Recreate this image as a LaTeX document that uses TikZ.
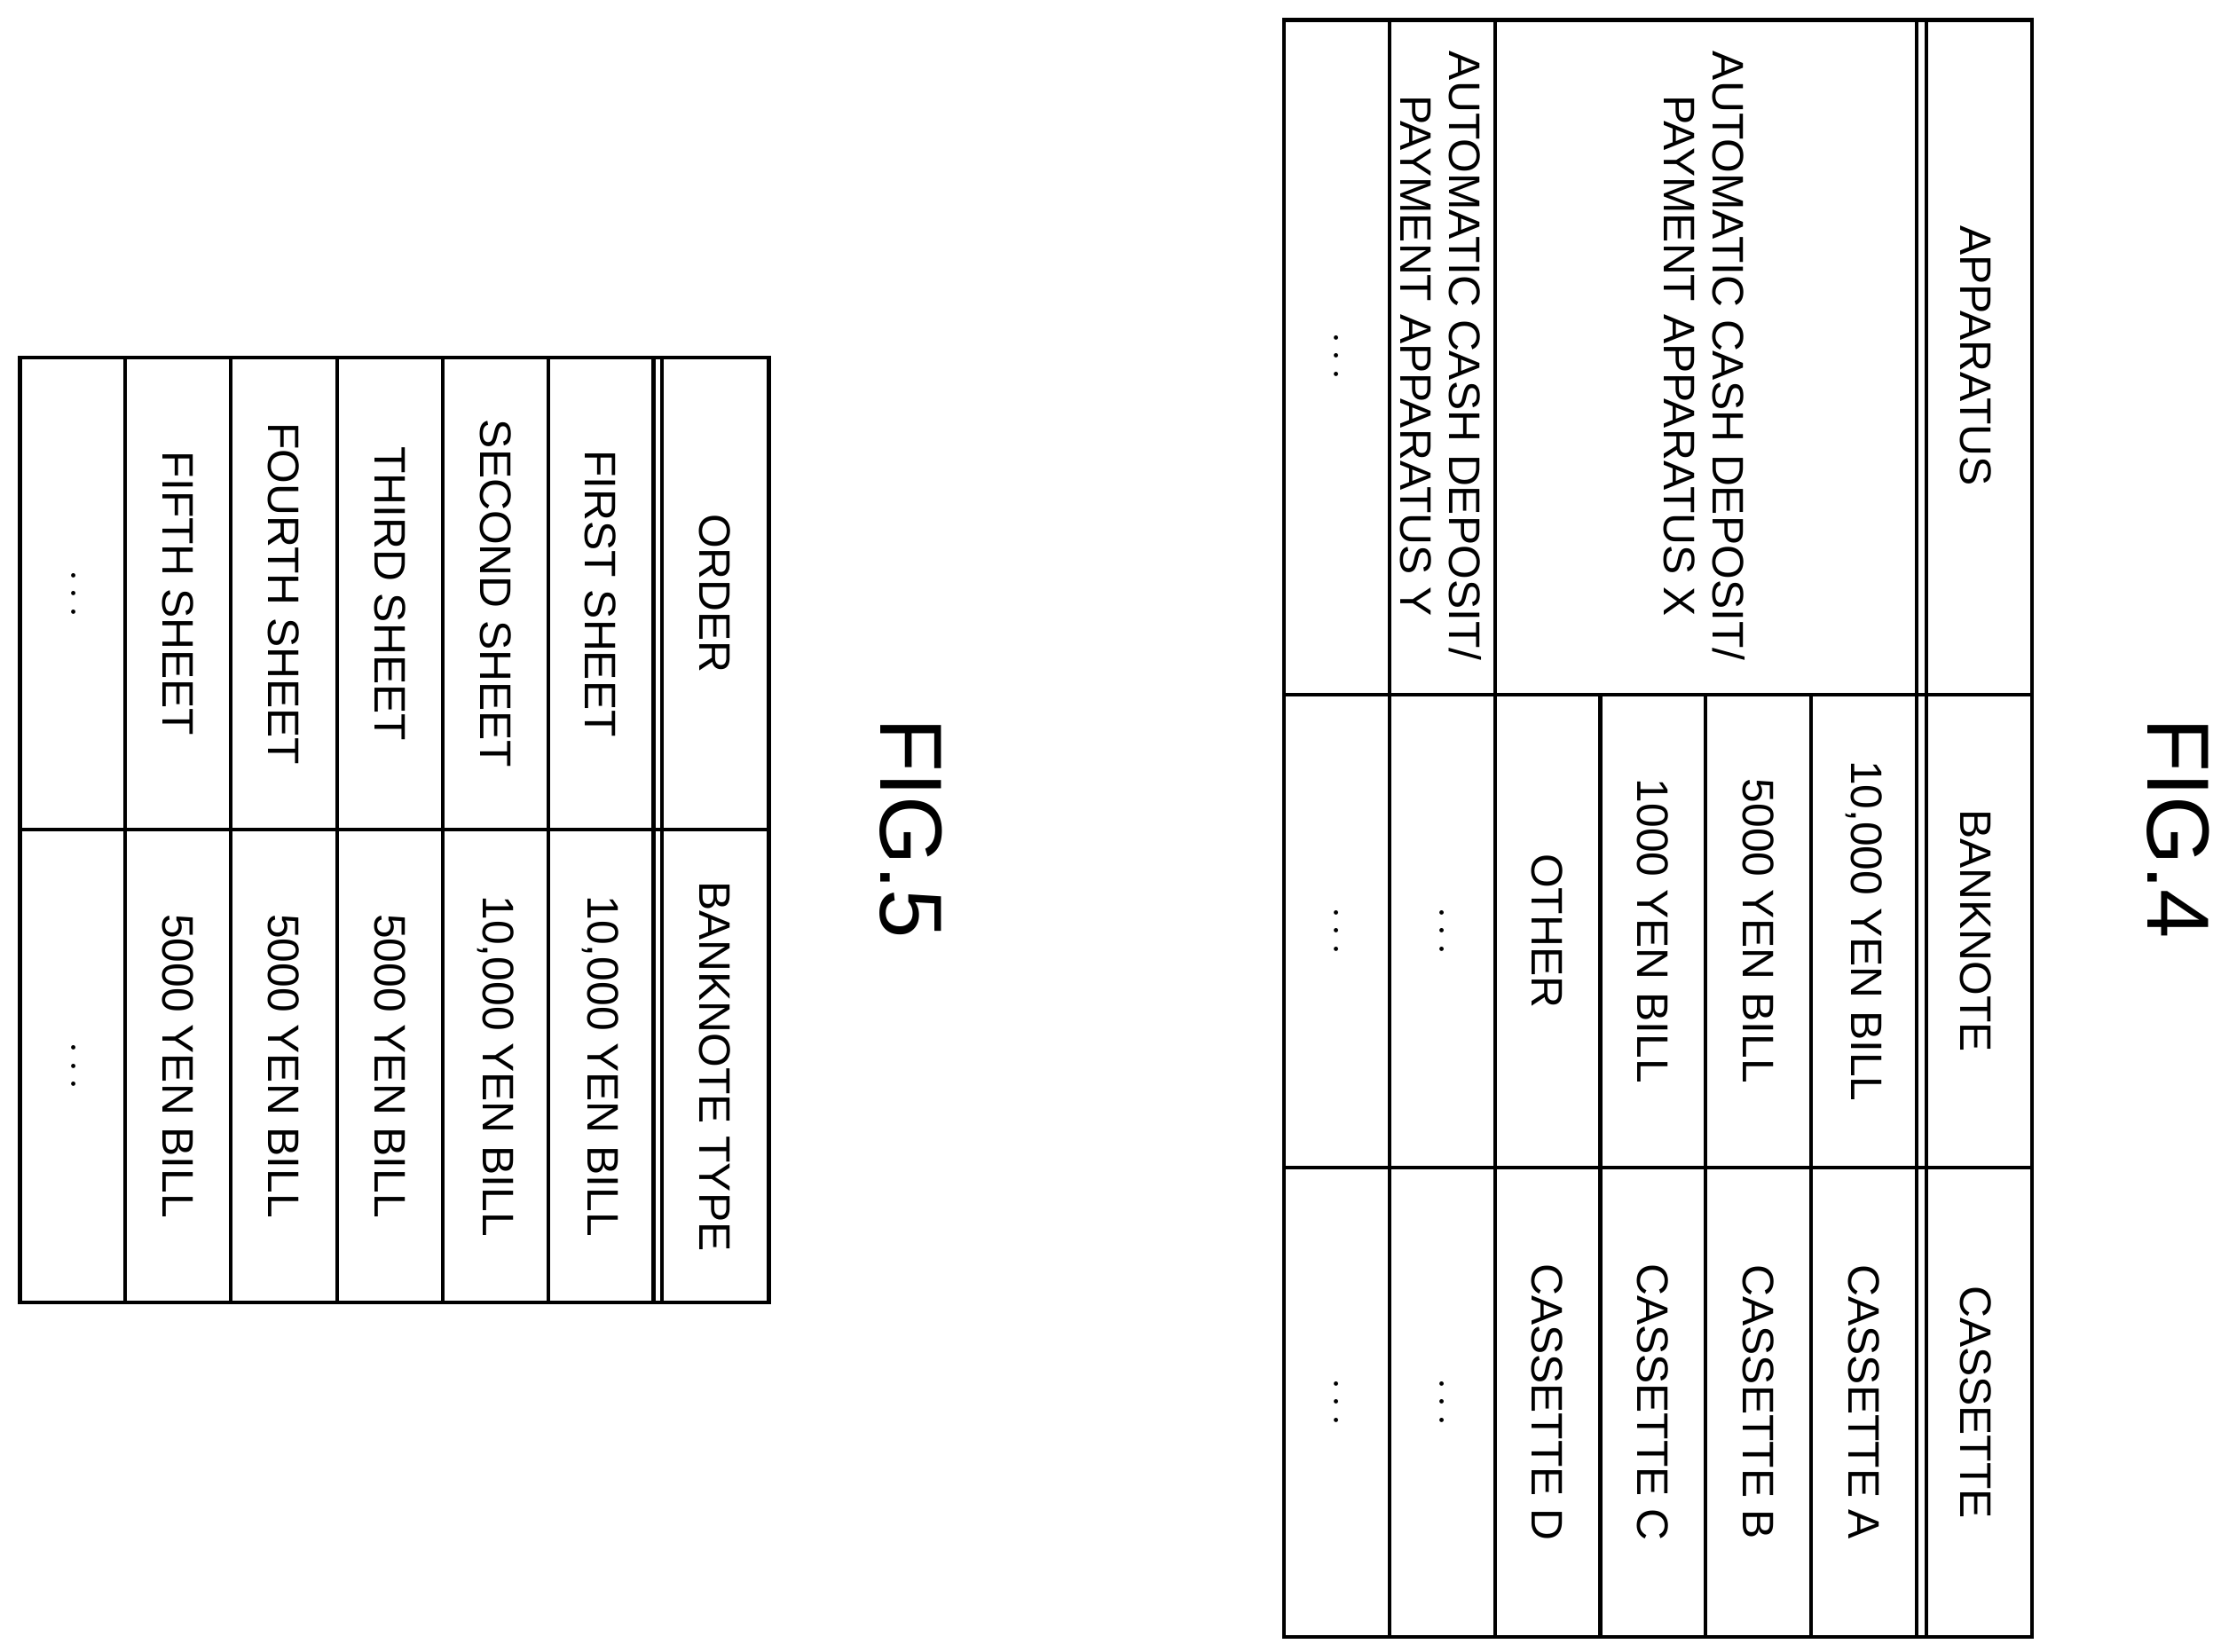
\documentclass[tikz,border=0pt]{standalone}
\usepackage{fontspec}
\setmainfont{Liberation Sans}
\begin{document}
\begin{tikzpicture}[x=0.5pt,y=-0.5pt,line width=1.3pt,
  t/.style={rotate=-90,font=\fontsize{15.5}{17}\selectfont,align=center,inner sep=0pt},
  fig/.style={rotate=-90,font=\fontsize{31}{33}\selectfont,inner sep=0pt}]
\useasboundingbox (0,0) rectangle (1560,1160);
% FIG.4
\draw (902,14) rectangle (1427,1150);
\foreach \x in {976,1050,1346,1353} \draw (\x,14) -- (\x,1150);
\foreach \x in {1124,1198,1272} \draw (\x,488) -- (\x,1150);
\foreach \y in {488,820} \draw (902,\y) -- (1427,\y);
\node[fig] (f4) at (1530,582) {FIG.4};
\node[t] (h1) at (1388,250) {APPARATUS};
\node[t] (h2) at (1388,654) {BANKNOTE};
\node[t] (h3) at (1388,985) {CASSETTE};
\node[t] (ax) at (1197,250) {AUTOMATIC CASH DEPOSIT/\\PAYMENT APPARATUS X};
\node[t] (ay) at (1012,250) {AUTOMATIC CASH DEPOSIT/\\PAYMENT APPARATUS Y};
\node[t] (d1) at (938,250) {$\cdots$};
\node[t] (d2) at (938,654) {$\cdots$};
\node[t] (d3) at (1012,654) {$\cdots$};
\node[t] (d4) at (938,985) {$\cdots$};
\node[t] (d5) at (1012,985) {$\cdots$};
\node[t] (b1) at (1309,654) {10,000 YEN BILL};
\node[t] (b2) at (1235,654) {5000 YEN BILL};
\node[t] (b3) at (1161,654) {1000 YEN BILL};
\node[t] (b4) at (1087,654) {OTHER};
\node[t] (c1) at (1309,985) {CASSETTE A};
\node[t] (c2) at (1235,985) {CASSETTE B};
\node[t] (c3) at (1161,985) {CASSETTE C};
\node[t] (c4) at (1087,985) {CASSETTE D};
% FIG.5
\draw (14,251) rectangle (540,915);
\foreach \x in {88,162,237,311,385,459,465} \draw (\x,251) -- (\x,915);
\draw (14,583) -- (540,583);
\node[fig] (f5) at (640,582) {FIG.5};
\node[t] (o) at (502,417) {ORDER};
\node[t] (bt) at (502,749) {BANKNOTE TYPE};
\node[t] (s1) at (422,417) {FIRST SHEET};
\node[t] (s2) at (348,417) {SECOND SHEET};
\node[t] (s3) at (274,417) {THIRD SHEET};
\node[t] (s4) at (199,417) {FOURTH SHEET};
\node[t] (s5) at (125,417) {FIFTH SHEET};
\node[t] (s6) at (51,417) {$\cdots$};
\node[t] (v1) at (422,749) {10,000 YEN BILL};
\node[t] (v2) at (348,749) {10,000 YEN BILL};
\node[t] (v3) at (274,749) {5000 YEN BILL};
\node[t] (v4) at (199,749) {5000 YEN BILL};
\node[t] (v5) at (125,749) {5000 YEN BILL};
\node[t] (v6) at (51,749) {$\cdots$};
\end{tikzpicture}
\end{document}
